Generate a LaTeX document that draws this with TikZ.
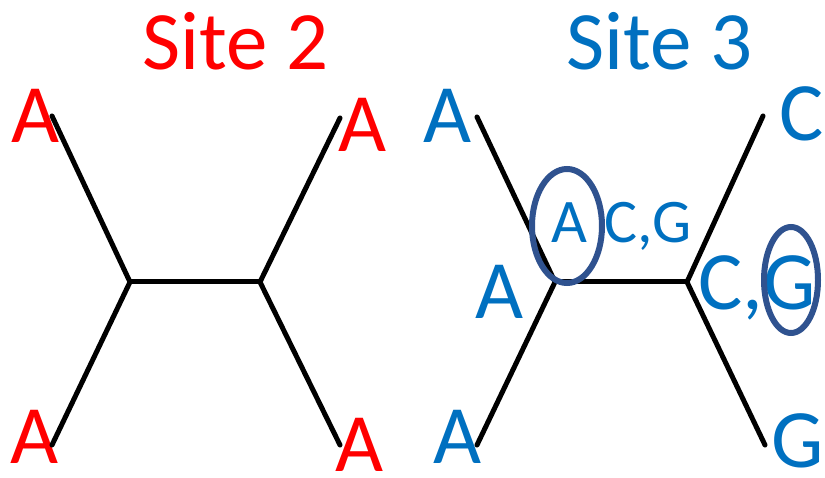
\documentclass[tikz,border=0pt]{standalone}
\usepackage{fontspec}
\setmainfont{Carlito}
\definecolor{sitered}{RGB}{255,0,0}
\definecolor{siteblue}{RGB}{0,112,192}
\definecolor{ringblue}{RGB}{47,82,143}

\begin{document}
\begin{tikzpicture}[x=1pt, y=-1pt,
    branch/.style={line width=5pt, line cap=round},
    big/.style={anchor=base, inner sep=0pt, text depth=0pt, font=\fontsize{83}{83}\selectfont},
    small/.style={anchor=base, inner sep=0pt, font=\fontsize{62}{62}\selectfont},
    ring/.style={draw=ringblue, line width=6pt}]
\useasboundingbox (0,0) rectangle (825,478);

% site 2
\node[big, sitered] (title2) at (236,70) {Site 2};
\node[big, sitered] (a1) at (36,143) {A};
\node[big, sitered] (a2) at (35,463) {A};
\node[big, sitered] (a3) at (363,152) {A};
\node[big, sitered] (a4) at (360,471) {A};
\coordinate (u) at (130,282);
\coordinate (v) at (260,282);
\coordinate (l1) at (52,116);
\coordinate (l2) at (52,445);
\coordinate (l3) at (340,118);
\coordinate (l4) at (340,445);
\draw[branch] (l1) -- (u) -- (l2);
\draw[branch] (u) -- (v);
\draw[branch] (l3) -- (v) -- (l4);

% site 3
\node[big, siteblue] (title3) at (660,70) {Site 3};
\node[big, siteblue] (b1) at (448,143) {A};
\node[big, siteblue] (b2) at (458,463) {A};
\node[big, siteblue] (b3) at (802,141) {C};
\node[big, siteblue] (b4) at (798,467) {G};
\node[big, siteblue] (bu) at (500,319) {A};
\node[big, siteblue] (bv) at (757,310) {C,G};
\node[small, siteblue] (su) at (569,243) {A};
\node[small, siteblue] (sv) at (648,243) {C,G};
\coordinate (p) at (555,282);
\coordinate (q) at (687,282);
\coordinate (m1) at (477,117);
\coordinate (m2) at (477,445);
\coordinate (m3) at (763,116);
\coordinate (m4) at (765,445);
\draw[branch] (m1) -- (p) -- (m2);
\draw[branch] (p) -- (q);
\draw[branch] (m3) -- (q) -- (m4);
\draw[ring] (567,226) ellipse (35 and 57);
\draw[ring] (791,280) ellipse (27 and 53);
\end{tikzpicture}
\end{document}
